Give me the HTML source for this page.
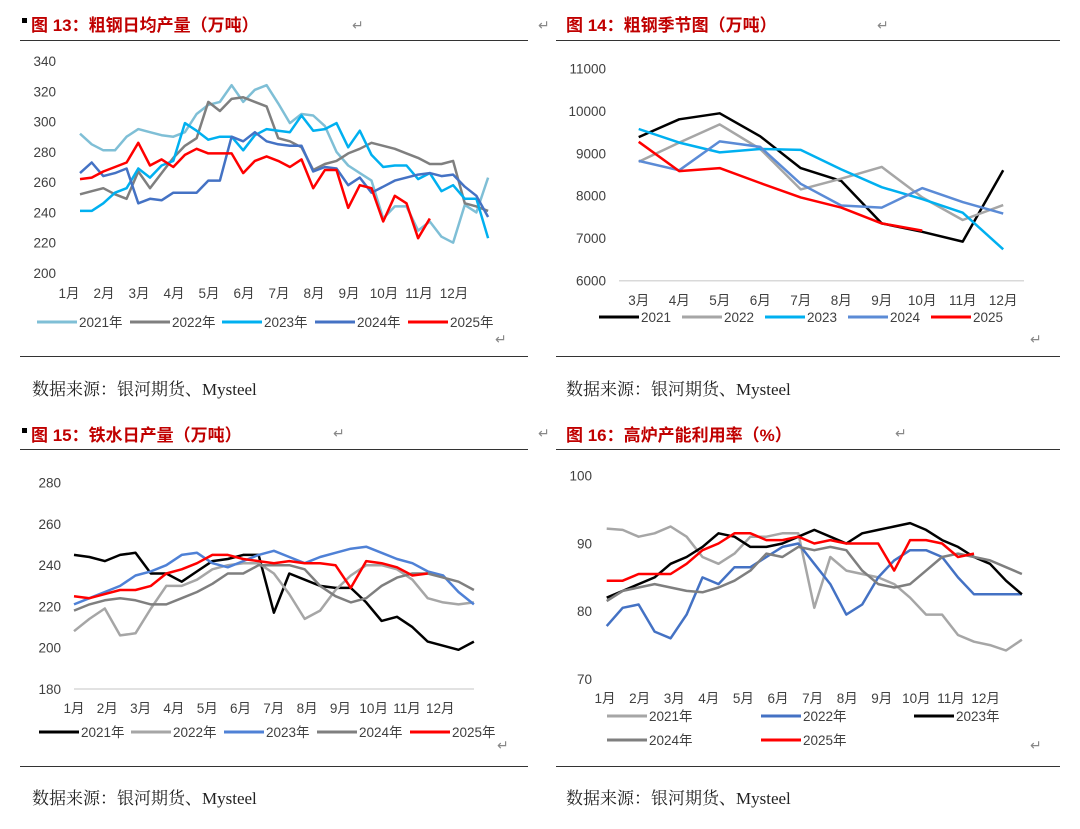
<!DOCTYPE html>
<html><head><meta charset="utf-8"><style>
body{margin:0;background:#fff;}
svg{display:block;font-family:"Liberation Sans","Noto Sans CJK SC",sans-serif;}
.h{font-size:17px;font-weight:bold;fill:#c00000;}
.src{font-size:17px;fill:#222;font-family:"Liberation Serif","Noto Serif CJK SC",serif;}
.tk{font-size:13.5px;fill:#404040;}
.rt{font-size:14px;fill:#888;}
</style></head><body>
<svg id="s" width="1080" height="829" viewBox="0 0 1080 829">
<g>
<rect x="22" y="18" width="5" height="5" fill="#000"/>
<text x="31" y="31" class="h">图 13：粗钢日均产量（万吨）</text>
<text x="566" y="31" class="h">图 14：粗钢季节图（万吨）</text>
<rect x="22" y="428" width="5" height="5" fill="#000"/>
<text x="31" y="441" class="h">图 15：铁水日产量（万吨）</text>
<text x="566" y="441" class="h">图 16：高炉产能利用率（%）</text>
<text x="352" y="30" class="rt">↵</text>
<text x="538" y="30" class="rt">↵</text>
<text x="877" y="30" class="rt">↵</text>
<text x="333" y="438" class="rt">↵</text>
<text x="538" y="438" class="rt">↵</text>
<text x="895" y="438" class="rt">↵</text>
<text x="495" y="344" class="rt">↵</text>
<text x="1030" y="344" class="rt">↵</text>
<text x="497" y="750" class="rt">↵</text>
<text x="1030" y="750" class="rt">↵</text>
<line x1="20" y1="40.5" x2="528" y2="40.5" stroke="#333"/>
<line x1="556" y1="40.5" x2="1060" y2="40.5" stroke="#333"/>
<line x1="20" y1="356.5" x2="528" y2="356.5" stroke="#333"/>
<line x1="556" y1="356.5" x2="1060" y2="356.5" stroke="#333"/>
<line x1="20" y1="449.5" x2="528" y2="449.5" stroke="#333"/>
<line x1="556" y1="449.5" x2="1060" y2="449.5" stroke="#333"/>
<line x1="20" y1="766.5" x2="528" y2="766.5" stroke="#333"/>
<line x1="556" y1="766.5" x2="1060" y2="766.5" stroke="#333"/>
<text x="32" y="395" class="src">数据来源：银河期货、Mysteel</text>
<text x="566" y="395" class="src">数据来源：银河期货、Mysteel</text>
<text x="32" y="804" class="src">数据来源：银河期货、Mysteel</text>
<text x="566" y="804" class="src">数据来源：银河期货、Mysteel</text>
</g>
</svg>
<script>
// ---------- Chart 1: crude steel daily ----------
const c1Months=["1月","2月","3月","4月","5月","6月","7月","8月","9月","10月","11月","12月"];
const c1Ticks=[200,220,240,260,280,300,320,340];
const c1Names=["2021年","2022年","2023年","2024年","2025年"];
const c1_2021=[292,285,281,281,290,295,293,291,290,293,305,311,313,324,313,321,324,312,299,305,304,297,280,271,266,261,236,244,244,228,234,224,220,245,240,263];
const c1_2022=[252,254,256,252,249,267,256,266,276,284,289,313,307,315,316,313,310,289,287,283,268,272,274,279,282,286,284,282,279,276,272,272,274,246,244,241];
const c1_2023=[241,241,246,253,256,269,263,271,274,299,294,288,290,290,281,291,295,294,293,304,294,295,299,283,294,278,270,271,271,262,266,254,258,249,249,223];
const c1_2024=[266,273,264,266,269,246,249,248,253,253,253,261,261,290,287,293,287,285,284,284,267,270,269,258,263,253,257,261,263,265,266,264,265,257,251,237];
const c1_2025=[262,263,267,270,273,286,271,275,270,278,282,279,279,279,266,274,277,274,270,275,256,268,268,243,258,256,234,251,246,223,236];
// ---------- Chart 2: seasonal ----------
const c2Months=["3月","4月","5月","6月","7月","8月","9月","10月","11月","12月"];
const c2Ticks=[6000,7000,8000,9000,10000,11000];
const c2Names=["2021","2022","2023","2024","2025"];
const c2_2021=[9380,9800,9940,9400,8650,8350,7350,7150,6920,8600];
const c2_2022=[8800,9250,9680,9100,8150,8400,8680,7960,7430,7780];
const c2_2023=[9570,9250,9020,9100,9080,8620,8200,7920,7600,6740];
const c2_2024=[8820,8600,9280,9150,8280,7770,7720,8180,7850,7580];
const c2_2025=[9270,8580,8650,8300,7960,7720,7350,7180];
// ---------- Chart 3: hot metal ----------
const c3Months=c1Months;
const c3Ticks=[180,200,220,240,260,280];
const c3Names=["2021年","2022年","2023年","2024年","2025年"];
const c3_2021=[245,244,242,245,246,236,236,232,237,242,243,245,245,217,236,233,230,229,229,222,213,215,210,203,201,199,203];
const c3_2022=[208,214,219,206,207,219,230,230,233,238,240,241,241,236,226,214,218,228,235,240,240,238,233,224,222,221,222];
const c3_2023=[221,224,227,230,235,237,240,245,246,241,239,242,245,247,244,241,244,246,248,249,246,243,241,237,235,227,221];
const c3_2024=[218,221,223,224,223,221,221,224,227,231,236,236,240,240,240,238,230,225,222,224,230,234,236,236,234,232,228];
const c3_2025=[225,224,226,228,228,230,236,238,241,245,245,243,242,241,242,241,241,240,229,242,241,239,235,236];
// ---------- Chart 4: BF utilization ----------
const c4Months=c1Months;
const c4Ticks=[70,80,90,100];
const c4Names=["2021年","2022年","2023年","2024年","2025年"];
const c4_2021=[92.2,92,91,91.5,92.5,91,88,87,88.5,91,91,91.5,91.5,80.5,88,86,85.5,85,84,82,79.5,79.5,76.5,75.5,75,74.2,75.8];
const c4_2022=[77.8,80.5,81,77,76,79.5,85,84,86.5,86.5,88,89.5,90,87,84,79.5,81,85,87.5,89,89,88,85,82.5,82.5,82.5,82.5];
const c4_2023=[82,83,84,85,87,88,89.5,91.5,91,89.5,89.5,90,91,92,91,90,91.5,92,92.5,93,92,90.5,89.5,88,87,84.5,82.5];
const c4_2024=[81.5,83,83.5,84,83.5,83,82.8,83.5,84.5,86,88.5,88,89.5,89,89.5,89,86,84,83.5,84,86,88,88.5,88,87.5,86.5,85.5];
const c4_2025=[84.5,84.5,85.5,85.5,85.5,87,89,90,91.5,91.5,90.5,90.5,91,90,90.5,90,90,90,86,90.5,90.5,90,88,88.5];

const svg=document.getElementById('s');
const NS='http://www.w3.org/2000/svg';
function mk(tag,attrs,parent){const e=document.createElementNS(NS,tag);for(const k in attrs)e.setAttribute(k,attrs[k]);(parent||svg).appendChild(e);return e;}

function chart(name,cfg,series,names,colors,months,ticks){
  const g=mk('g',{});
  
  
  const y=v=>cfg.y0-(v-cfg.vmin)/(cfg.vmax-cfg.vmin)*(cfg.y0-cfg.y1);
  ticks.forEach(t=>{
    const tx=mk('text',{x:cfg.tickX,y:y(t)+5,'text-anchor':'end',class:'tk'},g);
    tx.textContent=t;
    
    
  });
  if(cfg.axis){
    const ax=mk('line',{x1:cfg.axis[0],x2:cfg.axis[1],y1:cfg.y0,y2:cfg.y0,stroke:'#d9d9d9','stroke-width':1.5},g);
    
    
  }
  months.forEach((m,i)=>{
    const tx=mk('text',{x:cfg.mx0+i*cfg.mstep,y:cfg.my,'text-anchor':'middle',class:'tk'},g);
    tx.textContent=m;
    
    
  });
  series.forEach((s,k)=>{
    const pts=s.map((v,i)=>(cfg.x0+i*cfg.step).toFixed(1)+','+y(v).toFixed(1)).join(' ');
    const pl=mk('polyline',{points:pts,fill:'none',stroke:colors[k],'stroke-width':cfg.sw||2.5,'stroke-linejoin':'round'},g);
    
    
  });
  names.forEach((n,k)=>{
    const p=cfg.leg[k];
    const ln=mk('line',{x1:p[0],x2:p[0]+40,y1:p[1],y2:p[1],stroke:colors[k],'stroke-width':3},g);
    
    
    const tx=mk('text',{x:p[0]+42,y:p[1]+5,class:'tk'},g);
    tx.textContent=n;
    
    
  });
}

chart('chart-crude-steel-daily',{y0:273,y1:61,vmin:200,vmax:340,tickX:56,x0:80,step:11.66,mx0:69,mstep:35,my:298,
  leg:[[37,322],[130,322],[222,322],[315,322],[408,322]]},
  [c1_2021,c1_2022,c1_2023,c1_2024,c1_2025],c1Names,['#7fbfd6','#7f7f7f','#00b0f0','#4472c4','#ff0000'],c1Months,c1Ticks);

chart('chart-crude-steel-seasonal',{y0:280.7,y1:68.3,vmin:6000,vmax:11000,tickX:606,x0:638.7,step:40.5,mx0:638.7,mstep:40.5,my:305,axis:[619,1024],
  leg:[[599,317],[682,317],[765,317],[848,317],[931,317]]},
  [c2_2021,c2_2022,c2_2023,c2_2024,c2_2025],c2Names,['#000000','#a6a6a6','#00b0f0','#5b8bd6','#ff0000'],c2Months,c2Ticks);

chart('chart-hot-metal-daily',{y0:689,y1:482.7,vmin:180,vmax:280,tickX:61,x0:74,step:15.38,mx0:74,mstep:33.3,my:713,axis:[74,474],
  leg:[[39,732],[131,732],[224,732],[317,732],[410,732]]},
  [c3_2021,c3_2022,c3_2023,c3_2024,c3_2025],c3Names,['#000000','#a6a6a6','#4f81d6','#7f7f7f','#ff0000'],c3Months,c3Ticks);

chart('chart-bf-utilization',{y0:679,y1:475.7,vmin:70,vmax:100,tickX:592,x0:606.7,step:15.97,mx0:605,mstep:34.6,my:703,
  leg:[[607,716],[761,716],[914,716],[607,740],[761,740]]},
  [c4_2021,c4_2022,c4_2023,c4_2024,c4_2025],c4Names,['#a6a6a6','#4472c4','#000000','#7f7f7f','#ff0000'],c4Months,c4Ticks);
</script>
</body></html>
